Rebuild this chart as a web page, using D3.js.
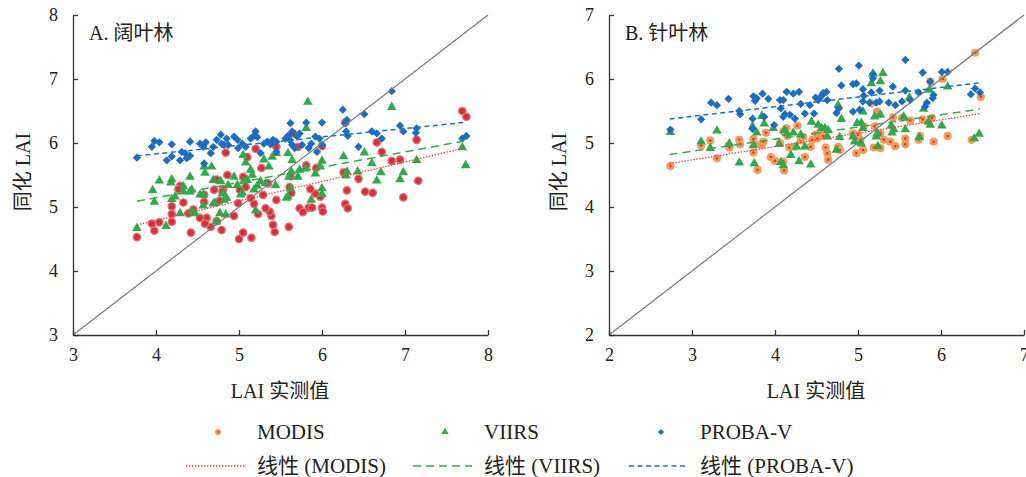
<!DOCTYPE html>
<html>
<head>
<meta charset="utf-8">
<script src="https://cdn.jsdelivr.net/npm/d3@7"></script>
<style>
body { margin: 0; background: #fff; }
svg text { font-family: 'Liberation Serif', 'DejaVu Serif', 'Noto Sans CJK SC', serif; fill: #222; }
</style>
</head>
<body>
<svg id="chart" width="1026" height="477"></svg>
<script>
// --- data ---
var ticksA = [3, 4, 5, 6, 7, 8];
var ticksB = [2, 3, 4, 5, 6, 7];
var seriesNames = ["MODIS", "VIIRS", "PROBA-V"];

// A. broadleaf forest
var modisA = [[7.69,6.50],[7.74,6.41],[7.14,6.05],[6.66,6.01],[6.72,5.86],[6.84,5.72],[6.94,5.74],[7.16,5.41],[6.98,5.15],[6.52,5.24],
	[6.61,5.22],[6.44,5.44],[6.30,5.26],[6.26,5.54],[6.28,5.05],[6.31,4.98],[6.00,5.95],[5.98,5.16],[5.92,5.21],[5.86,5.28],
	[6.00,4.99],[6.01,4.93],[5.84,4.99],[5.88,4.99],[5.73,4.98],[5.77,4.92],[5.81,5.65],[5.93,5.61],[5.71,5.94],[5.65,6.15],
	[5.62,5.48],[5.61,5.31],[5.63,5.22],[5.60,4.69],[5.45,5.94],[5.45,5.11],[5.43,4.61],[5.41,4.72],[5.39,4.86],[5.37,4.93],
	[5.32,4.98],[5.35,5.37],[5.29,5.19],[5.27,5.61],[5.20,5.91],[5.23,4.89],[5.18,5.05],[5.14,5.14],[5.10,5.78],[5.08,5.31],
	[5.05,5.47],[5.05,4.60],[5.01,5.27],[4.99,5.06],[5.00,4.50],[5.15,4.52],[4.94,4.86],[4.86,5.50],[4.84,5.85],[4.81,5.28],
	[4.80,5.24],[4.79,4.64],[4.77,5.10],[4.73,5.43],[4.73,4.78],[4.70,5.27],[4.66,4.69],[4.61,4.83],[4.59,4.74],[4.58,5.08],
	[4.58,5.19],[4.53,4.83],[4.45,4.96],[4.42,4.60],[4.39,4.90],[4.33,5.07],[4.29,5.33],[4.27,5.28],[4.19,5.01],[4.19,4.89],
	[4.19,4.77],[4.04,4.76],[3.98,4.63],[3.95,4.74],[3.77,4.53],[6.28,6.32]];
var viirsA = [[5.83,6.64],[6.84,6.56],[5.81,6.23],[6.26,5.79],[6.51,5.85],[7.69,5.93],[7.73,5.65],[7.14,5.73],[6.94,5.43],[6.98,5.54],
	[6.60,5.68],[6.66,5.41],[6.71,5.54],[6.43,5.55],[6.30,5.55],[6.29,5.49],[6.00,5.72],[5.98,5.63],[5.92,5.52],[5.80,5.60],
	[5.73,5.58],[5.71,5.47],[5.64,5.73],[5.59,5.84],[5.63,5.55],[5.60,5.47],[5.62,5.29],[5.59,5.16],[5.45,5.84],[5.40,5.78],
	[5.36,5.63],[5.30,5.74],[5.32,5.37],[5.26,5.40],[5.22,5.33],[5.18,5.27],[5.16,5.50],[5.14,5.58],[5.10,5.42],[5.08,5.69],
	[5.05,5.81],[5.04,5.22],[4.98,5.34],[4.94,5.47],[4.87,5.34],[4.85,5.14],[4.82,5.11],[4.80,5.21],[4.78,5.40],[4.77,4.90],
	[4.71,5.06],[4.73,4.77],[4.84,4.88],[4.69,5.42],[4.67,5.63],[4.59,5.53],[4.58,5.63],[4.57,5.19],[4.57,5.02],[4.53,5.19],
	[4.47,4.90],[4.43,5.27],[4.41,5.47],[4.33,5.24],[4.33,5.32],[4.29,4.90],[4.23,5.16],[4.19,5.43],[4.18,5.38],[4.19,5.12],
	[4.04,5.41],[3.96,5.26],[3.98,5.08],[4.12,4.70],[3.77,4.67],[4.41,5.24],[4.43,4.93],[4.69,5.05],[5.02,5.19],[5.06,5.40],
	[5.20,4.94],[5.44,5.34],[5.57,5.14],[5.87,5.11],[6.00,5.29],[6.00,5.20]];
var probaA = [[3.77,5.77],[3.95,5.94],[3.98,6.03],[4.04,6.01],[4.19,5.98],[4.13,5.73],[4.19,5.79],[4.29,5.73],[4.37,5.76],[4.41,5.80],
	[4.31,5.86],[4.35,5.84],[4.41,6.02],[4.53,5.99],[4.57,5.94],[4.60,6.01],[4.58,5.68],[4.66,5.84],[4.69,5.94],[4.73,6.05],
	[4.78,6.13],[4.79,5.99],[4.82,5.97],[4.85,6.07],[4.87,5.97],[4.94,6.10],[4.98,6.05],[4.99,5.92],[5.04,5.99],[5.08,5.94],
	[5.14,6.07],[5.17,6.10],[5.20,6.18],[5.22,6.09],[5.26,5.84],[5.30,5.99],[5.34,6.02],[5.38,5.98],[5.41,6.05],[5.45,6.02],
	[5.45,5.86],[5.56,6.07],[5.59,6.11],[5.61,6.05],[5.62,6.31],[5.64,6.18],[5.64,5.97],[5.67,5.92],[5.70,6.10],[5.73,6.15],
	[5.76,5.97],[5.81,6.32],[5.84,5.92],[5.87,5.99],[5.92,6.10],[5.94,5.86],[5.97,6.07],[6.00,6.32],[6.00,5.97],[6.25,6.52],
	[6.28,6.31],[6.30,6.36],[6.29,6.18],[6.31,6.11],[6.44,5.94],[6.51,6.45],[6.60,6.18],[6.66,6.15],[6.72,6.07],[6.84,6.81],
	[6.94,6.27],[6.98,6.18],[7.14,6.23],[7.13,6.16],[7.69,6.07],[7.74,6.11]];

// B. coniferous forest
var modisB = [[2.74,4.64],[3.11,4.96],[3.22,5.04],[3.30,4.76],[3.44,4.96],[3.45,4.93],[3.57,5.05],[3.58,4.98],[3.74,5.06],[3.74,4.85],
	[3.76,4.98],[3.79,4.58],[3.84,4.97],[3.86,5.02],[3.89,5.16],[3.95,4.78],[4.00,4.72],[4.06,5.00],[4.10,4.71],[4.11,4.57],
	[4.10,5.18],[4.14,5.23],[4.15,5.11],[4.17,4.93],[4.24,4.94],[4.27,5.27],[4.31,5.04],[4.34,5.09],[4.36,4.78],[4.43,4.94],
	[4.45,5.05],[4.49,5.13],[4.51,5.07],[4.55,5.15],[4.58,5.11],[4.61,4.93],[4.63,4.84],[4.64,4.74],[4.76,4.94],[4.78,4.89],
	[4.94,5.15],[4.98,4.84],[5.00,5.13],[5.03,5.05],[5.06,4.89],[5.07,5.26],[5.16,5.62],[5.19,4.93],[5.20,5.26],[5.23,5.49],
	[5.25,5.45],[5.27,4.92],[5.27,5.15],[5.31,5.05],[5.39,5.02],[5.42,5.40],[5.45,4.95],[5.53,5.39],[5.57,5.07],[5.57,4.98],
	[5.63,5.35],[5.73,5.05],[5.75,5.11],[5.78,5.37],[5.87,5.96],[5.89,5.39],[5.91,5.02],[6.02,6.00],[6.08,5.11],[6.37,5.05],
	[6.41,6.41],[6.48,5.72]];
var viirsB = [[2.74,5.17],[3.11,5.02],[3.22,4.92],[3.30,5.19],[3.45,4.99],[3.57,4.69],[3.75,4.68],[3.73,5.26],[3.74,4.96],[3.78,5.16],
	[3.84,5.42],[3.87,5.30],[3.98,5.23],[4.05,4.98],[4.07,4.70],[4.10,4.65],[4.11,5.20],[4.14,5.15],[4.19,4.81],[4.22,5.16],
	[4.26,4.94],[4.29,4.71],[4.31,5.13],[4.36,4.94],[4.43,4.66],[4.44,5.33],[4.52,5.28],[4.56,5.23],[4.60,5.23],[4.63,5.10],
	[4.64,5.20],[4.74,4.89],[4.76,5.59],[4.78,5.09],[4.80,5.37],[4.94,5.10],[4.96,5.02],[4.99,5.31],[5.04,5.31],[5.06,5.23],
	[5.04,4.99],[5.06,5.49],[5.16,5.93],[5.18,6.08],[5.20,5.41],[5.23,5.15],[5.22,5.10],[5.24,4.95],[5.27,5.96],[5.27,5.44],
	[5.30,6.09],[5.40,5.27],[5.43,5.21],[5.41,5.16],[5.55,5.41],[5.57,5.21],[5.62,5.71],[5.74,5.09],[5.79,5.53],[5.85,5.33],
	[5.87,5.28],[5.86,5.83],[6.01,5.27],[6.08,5.88],[6.40,5.07],[6.46,5.14]];
var probaB = [[2.74,5.21],[3.11,5.37],[3.23,5.63],[3.30,5.59],[3.44,5.69],[3.57,5.50],[3.58,5.45],[3.73,5.38],[3.73,5.22],[3.74,5.73],
	[3.78,5.70],[3.76,5.66],[3.85,5.77],[3.92,5.69],[3.87,5.41],[3.99,5.28],[4.06,5.67],[4.10,5.67],[4.07,5.54],[4.14,5.80],
	[4.10,5.41],[4.12,5.45],[4.18,5.44],[4.22,5.77],[4.29,5.80],[4.31,5.61],[4.24,5.38],[4.36,5.46],[4.42,5.59],[4.47,5.46],
	[4.49,5.71],[4.52,5.67],[4.57,5.75],[4.62,5.80],[4.58,5.78],[4.54,5.70],[4.63,5.67],[4.74,5.47],[4.77,5.54],[4.77,6.16],
	[4.80,5.90],[4.94,5.92],[4.98,5.93],[5.01,6.21],[5.06,5.84],[5.07,5.74],[5.06,5.65],[5.14,5.63],[4.94,5.49],[5.02,5.52],
	[5.18,6.01],[5.18,6.08],[5.26,5.82],[5.16,5.79],[5.22,5.63],[5.26,5.65],[5.37,5.63],[5.42,5.88],[5.45,5.59],[5.53,5.65],
	[5.57,6.30],[5.57,5.82],[5.63,5.67],[5.73,5.79],[5.78,6.10],[5.81,5.57],[5.83,5.63],[5.87,5.96],[5.90,5.70],[5.91,5.75],
	[6.01,6.11],[6.08,6.11],[6.36,5.76],[6.41,5.85],[6.47,5.79]];

// linear trend lines, end points (MODIS, VIIRS, PROBA-V)
var fitA = [[[3.77,4.72],[7.71,5.92]], [[3.77,5.09],[7.71,6.03]], [[3.77,5.80],[7.71,6.32]]];
var fitB = [[[2.73,4.68],[6.47,5.46]], [[2.73,4.82],[6.47,5.53]], [[2.73,5.375],[6.47,5.94]]];

// --- drawing ---
var svg = d3.select("#chart");
var serif = "'Liberation Serif', 'DejaVu Serif', 'Noto Sans CJK SC', serif";
var colors = { green: "#31a84b", blue: "#1c6dbd" };
var trendStyle = [
	{ color: "#ff3b3b", dash: "1.4,1.6", width: 1.3 },
	{ color: "#35ac4c", dash: "8,5", width: 1.5 },
	{ color: "#1f6fc2", dash: "5,3.5", width: 1.5 }
];

function drawMarker(sel, type, modisStyle, scale) {
	scale = scale || 1;
	if (type == 0) {
		if (modisStyle == "A") {
			sel.append("circle").attr("r", 3.7 * scale)
				.attr("fill", "#d6303a").attr("stroke", "#e37076").attr("stroke-width", 1.3 * scale);
		} else {
			sel.append("circle").attr("r", 2.7 * scale)
				.attr("fill", "#e9351f").attr("stroke", "#f49b5e").attr("stroke-width", 2.8 * scale);
		}
	} else if (type == 1) {
		sel.append("path").attr("d", d3.symbol(d3.symbolTriangle, 40 * scale * scale)())
			.attr("fill", colors.green);
	} else {
		sel.append("path").attr("d", d3.symbol(d3.symbolSquare, 34 * scale * scale)())
			.attr("transform", "rotate(45)")
			.attr("fill", colors.blue);
	}
}

function drawPanel(opt) {
	var lo = opt.ticks[0], hi = opt.ticks[opt.ticks.length - 1];
	var x = d3.scaleLinear().domain([lo, hi]).range([opt.left, opt.left + 415]);
	var y = d3.scaleLinear().domain([lo, hi]).range([335, 15]);
	var g = svg.append("g");

	// points
	opt.series.forEach(function(data, i) {
		var pts = g.append("g").selectAll("g").data(data).enter().append("g")
			.attr("transform", function(d) { return "translate(" + x(d[0]) + "," + y(d[1]) + ")"; });
		pts.each(function() { drawMarker(d3.select(this), i, opt.modisStyle); });
	});

	// 1:1 line
	g.append("line")
		.attr("x1", x(lo)).attr("y1", y(lo)).attr("x2", x(hi)).attr("y2", y(hi))
		.attr("stroke", "#7a7a7a").attr("stroke-width", 1.2);

	// trend lines
	opt.fits.forEach(function(f, i) {
		g.append("line")
			.attr("x1", x(f[0][0])).attr("y1", y(f[0][1]))
			.attr("x2", x(f[1][0])).attr("y2", y(f[1][1]))
			.attr("stroke", trendStyle[i].color)
			.attr("stroke-width", trendStyle[i].width)
			.attr("stroke-dasharray", trendStyle[i].dash);
	});

	// axes
	var xAxis = g.append("g").attr("transform", "translate(0,335)")
		.call(d3.axisBottom(x).tickValues(opt.ticks).tickSizeInner(-5).tickSizeOuter(0).tickPadding(13).tickFormat(d3.format("d")));
	var yAxis = g.append("g").attr("transform", "translate(" + opt.left + ",0)")
		.call(d3.axisLeft(y).tickValues(opt.ticks).tickSizeInner(-5).tickSizeOuter(0).tickPadding(15).tickFormat(d3.format("d")));
	[xAxis, yAxis].forEach(function(a) {
		a.attr("font-family", serif);
		a.select(".domain").attr("stroke", "#333").attr("stroke-width", 1.3);
		a.selectAll(".tick line").attr("stroke", "#333").attr("stroke-width", 1.3);
		a.selectAll(".tick text").attr("font-size", 18).attr("fill", "#222");
	});

	// titles
	g.append("text").attr("x", opt.left + 16).attr("y", 40)
		.attr("font-size", 20).text(opt.title);
	g.append("text").attr("x", opt.left + 207).attr("y", 398)
		.attr("text-anchor", "middle").attr("font-size", 20).text("LAI 实测值");
	g.append("text")
		.attr("transform", "translate(" + (opt.left - 43) + ",172) rotate(-90)")
		.attr("text-anchor", "middle").attr("font-size", 20).text("同化 LAI");
}

drawPanel({ title: "A. 阔叶林", left: 73, ticks: ticksA, series: [modisA, viirsA, probaA], fits: fitA, modisStyle: "A" });
drawPanel({ title: "B. 针叶林", left: 609, ticks: ticksB, series: [modisB, viirsB, probaB], fits: fitB, modisStyle: "B" });

// legend
var legendX = [257, 484, 700];
var legend = svg.append("g");
seriesNames.forEach(function(name, i) {
	var m = legend.append("g").attr("transform", "translate(" + (legendX[i] - 39) + ",432)");
	drawMarker(m, i, "B", 0.75);
	legend.append("text").attr("x", legendX[i]).attr("y", 439).attr("font-size", 21).text(name);
	legend.append("line")
		.attr("x1", legendX[i] - 71).attr("x2", legendX[i] - 12)
		.attr("y1", 466).attr("y2", 466)
		.attr("stroke", trendStyle[i].color)
		.attr("stroke-width", trendStyle[i].width)
		.attr("stroke-dasharray", trendStyle[i].dash);
	legend.append("text").attr("x", legendX[i]).attr("y", 473).attr("font-size", 21).text("线性 (" + name + ")");
});
</script>
</body>
</html>
